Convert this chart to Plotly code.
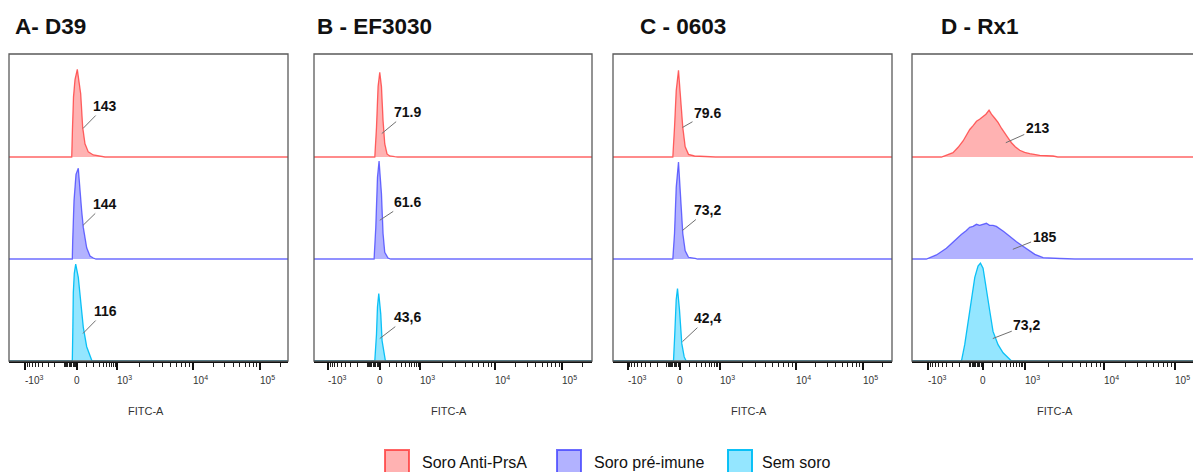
import math
import plotly.graph_objects as go

FONT = "Liberation Sans, Arial, sans-serif"
W, H = 1193, 472

# ---------------- data ----------------
panel_titles = ["A- D39", "B - EF3030", "C - 0603", "D - Rx1"]
series_names = ["Soro Anti-PrsA", "Soro pré-imune", "Sem soro"]

# Histogram bins: display channel on the biexponential FITC-A axis,
# and counts normalised to mode (% of one lane height)
a_red_ch = [62.7, 63.5, 64.5, 66.0, 67.5, 68.3, 71.7, 73.7, 76.0, 79.3, 84.3, 89.3, 94.0, 96.0]
a_red_n = [0, 29, 59, 76, 84, 86, 62, 29, 13, 5, 2, 1, 0.5, 0]
a_blue_ch = [63.3, 63.7, 65.0, 67.0, 69.3, 72.7, 74.3, 77.7, 81.0, 84.3, 87.0]
a_blue_n = [0, 18, 57, 83, 89, 47, 31, 11, 3, 1, 0]
a_cyan_ch = [63.3, 63.8, 64.3, 65.3, 66.7, 69.3, 71.7, 74.3, 77.7, 81.0, 83.0]
a_cyan_n = [0, 29, 67, 86, 95, 82, 60, 33, 14, 4, 0]

b_red_ch = [63.0, 64.7, 66.3, 68.0, 69.7, 71.3, 73.0, 75.3, 78.0, 83.0, 86.0]
b_red_n = [0, 29, 69, 83, 69, 36, 13, 3, 1, 0.3, 0]
b_blue_ch = [62.3, 64.0, 65.7, 67.3, 69.7, 71.3, 73.0, 76.3, 79.0]
b_blue_n = [0, 31, 80, 96, 64, 25, 6.5, 1, 0]
b_cyan_ch = [63.0, 64.7, 65.7, 67.0, 69.0, 70.3, 72.3, 73.7]
b_cyan_n = [0, 26, 53, 66, 46, 20, 5, 0]

c_red_ch = [61.3, 63.0, 64.7, 67.0, 69.3, 71.3, 73.7, 77.0, 83.0, 88.0, 93.0, 98.0, 102.0, 104.0]
c_red_n = [0, 29, 65, 85, 56, 29, 10, 2.6, 1, 0.7, 0.5, 0.7, 0.3, 0]
c_blue_ch = [61.3, 63.0, 64.7, 67.0, 69.3, 71.3, 73.7, 77.0, 83.7, 86.0]
c_blue_n = [0, 25, 70, 95, 57, 25, 8, 1.7, 0.7, 0]
c_cyan_ch = [62.0, 63.3, 64.7, 66.0, 68.0, 70.3, 72.7, 74.7]
c_cyan_n = [0, 27, 60, 71, 50, 17, 4, 0]

d_red_ch = [28.6, 39.6, 44.5, 49.2, 52.5, 55.6, 59.0, 62.0, 65.0, 68.3, 71.0, 74.0, 76.3, 79.5, 82.6,
            86.0, 89.0, 92.0, 95.4, 99.0, 103.3, 108.0, 112.9, 122.4, 135.1, 139.6]
d_red_n = [0, 4.3, 9.5, 15.7, 21, 27, 31, 35, 37, 40, 42, 46, 42, 38, 34,
           28, 24, 19, 14, 10, 6.6, 4.5, 3.3, 1.7, 1, 0]
d_blue_ch = [14.2, 23.8, 28.5, 33.3, 38.0, 42.9, 47.5, 52.4, 55.5, 58.7, 62.0, 65.0, 68.3, 71.5, 74.5,
             77.8, 81.0, 84.2, 88.0, 92.2, 96.0, 100.2, 105.0, 109.7, 113.5, 117.7, 125.6, 132.0, 141.5, 155.9]
d_blue_n = [0, 4, 7, 10.5, 15, 20, 24, 28, 31, 32, 34, 33, 34, 35, 33,
            33, 32, 30, 27, 23.5, 20, 17, 13.5, 10.5, 7.5, 4.6, 1.3, 0.8, 0.5, 0]
d_cyan_ch = [47.7, 50.8, 54.0, 57.2, 60.4, 63.5, 65.8, 68.3, 71.5, 74.7, 77.8, 82.6, 87.4, 92.2, 95.4]
d_cyan_n = [0, 16, 39, 62, 82, 93, 96, 91, 72, 49, 29, 16, 8, 3, 0]

# MFI values written on each histogram
mfi_labels = [
    ["143", "144", "116"],
    ["71.9", "61.6", "43,6"],
    ["79.6", "73,2", "42,4"],
    ["213", "185", "73,2"],
]

# Axis ticks (FITC-A values)
tick_values = [-1e3, 0, 1e3, 1e4, 1e5]
tick_text = ["-10<sup>3</sup>", "0", "10<sup>3</sup>", "10<sup>4</sup>", "10<sup>5</sup>"]
minor_values = ([-v for v in range(100, 1000, 100)] + [-v for v in range(10, 100, 10)]
                + list(range(100, 1000, 100)) + list(range(2000, 10000, 1000))
                + list(range(20000, 100000, 10000)) + [200000])

hists = [
    [(a_red_ch, a_red_n), (a_blue_ch, a_blue_n), (a_cyan_ch, a_cyan_n)],
    [(b_red_ch, b_red_n), (b_blue_ch, b_blue_n), (b_cyan_ch, b_cyan_n)],
    [(c_red_ch, c_red_n), (c_blue_ch, c_blue_n), (c_cyan_ch, c_cyan_n)],
    [(d_red_ch, d_red_n), (d_blue_ch, d_blue_n), (d_cyan_ch, d_cyan_n)],
]

# ---------------- layout / style ----------------
def to_channel(v):
    """biexponential display transform used by the cytometry software"""
    if v >= 1e4:
        return 184 + 67 * math.log10(v / 1e4)
    if v >= 1e3:
        return 108 + 76 * math.log10(v / 1e3)
    c = 150.0
    if v >= 0:
        return 68 + 40 * math.asinh(v / c) / math.asinh(1e3 / c)
    return 68 - 52 * math.asinh(-v / c) / math.asinh(1e3 / c)

panels = [
    dict(px0=9, px1=288, rng=[0, 279], title_px=13, open_right=False),
    dict(px0=314, px1=592, rng=[2, 281], title_px=315, open_right=False),
    dict(px0=613, px1=892, rng=[1.5, 280.5], title_px=638, open_right=False),
    dict(px0=912, px1=1193, rng=[0.5, 268.6], title_px=939, open_right=True),
]
lane_offsets = [200, 100, 0]
line_colors = ["rgba(255,50,50,0.75)", "rgba(60,60,255,0.75)", "rgba(0,190,245,0.95)"]
fill_colors = ["rgba(255,0,0,0.30)", "rgba(0,0,255,0.30)", "rgba(0,195,255,0.42)"]
# label placement: (head channel, head height, label channel, label height) within the lane
label_pos = [
    [(74, 28, 96, 50), (74, 33, 96, 54), (74, 27, 96, 49)],
    [(70, 23, 96, 44), (68, 38, 96, 56), (68, 22, 96, 43)],
    [(71, 29, 96, 43), (71, 28, 96, 48), (71, 19, 96, 42)],
    [(90, 14, 120.5, 28), (96.7, 9.5, 127, 22), (77.6, 22, 110, 35)],
]

y_bottom_px, y_top_px = 361, 54
ydom = [(H - y_bottom_px) / H, (H - y_top_px) / H]
yrange = [0, 301]

fig = go.Figure()
shapes = []
annotations = []

for p, cfg in enumerate(panels):
    xa = "x" if p == 0 else f"x{p+1}"
    ya = "y" if p == 0 else f"y{p+1}"
    xkey = "xaxis" if p == 0 else f"xaxis{p+1}"
    ykey = "yaxis" if p == 0 else f"yaxis{p+1}"
    lo, hi = cfg["rng"]
    for s in range(3):
        ch, n = hists[p][s]
        off = lane_offsets[s]
        xs = [lo] + list(ch) + [hi]
        ys = [off] + [off + v for v in n] + [off]
        fig.add_trace(go.Scatter(
            x=xs, y=ys, xaxis=xa, yaxis=ya, mode="lines", fill="toself",
            fillcolor=fill_colors[s], line=dict(color=line_colors[s], width=1.3),
            name=series_names[s], showlegend=False, hoverinfo="skip"))
        hx, hy, lx, ly = label_pos[p][s]
        annotations.append(dict(
            x=hx, y=off + hy, xref=xa, yref=ya, ax=lx, ay=off + ly, axref=xa, ayref=ya,
            text="<b>" + mfi_labels[p][s] + "</b>", showarrow=True, arrowhead=0,
            arrowwidth=1, arrowcolor="#707070", standoff=0, startstandoff=0,
            font=dict(family=FONT, size=14, color="#111")))

    dom = [cfg["px0"] / W, min(cfg["px1"] / W, 1.0)]
    fig.layout[xkey] = dict(
        domain=dom, range=[lo, hi], anchor=ya, showgrid=False, zeroline=False,
        showline=True, linecolor="#111", linewidth=1.8,
        tickmode="array", tickvals=[to_channel(v) for v in tick_values],
        ticks="outside", ticklen=7, tickwidth=2.2, tickcolor="#111", showticklabels=False,
        minor=dict(tickmode="array", tickvals=[to_channel(v) for v in minor_values],
                   ticks="outside", ticklen=4, tickwidth=1.3, tickcolor="#222"),
        fixedrange=True)
    fig.layout[ykey] = dict(
        domain=ydom, range=yrange, anchor=xa, showgrid=False, zeroline=False,
        showline=False, showticklabels=False, ticks="", fixedrange=True)

    # frame
    shapes.append(dict(type="rect", xref=f"{xa} domain", yref=f"{ya} domain",
                       x0=0, x1=1.2 if cfg["open_right"] else 1, y0=0, y1=1,
                       line=dict(color="#5a5a5a", width=1.3), layer="above"))

    # tick labels
    for v, t in zip(tick_values, tick_text):
        annotations.append(dict(
            x=to_channel(v), y=(H - 380) / H, xref=xa, yref="paper",
            text=t, showarrow=False, xanchor="center" if v == 0 else "left",
            xshift=0 if v == 0 else -2, yanchor="middle",
            font=dict(family=FONT, size=10, color="#333")))
    # axis title
    annotations.append(dict(
        x=137, y=(H - 411) / H, xref=xa, yref="paper", text="FITC-A",
        showarrow=False, xanchor="center", yanchor="middle",
        font=dict(family=FONT, size=11, color="#333")))
    # panel title
    annotations.append(dict(
        x=cfg["title_px"] / W, y=(H - 27) / H, xref="paper", yref="paper",
        text="<b>" + panel_titles[p] + "</b>", showarrow=False,
        xanchor="left", yanchor="middle",
        font=dict(family=FONT, size=22.5, color="#111")))

# legend (bottom)
legend_px = [(385, 420), (557, 592), (728, 760)]
for s, (sq, tx) in enumerate(legend_px):
    shapes.append(dict(type="rect", xref="paper", yref="paper",
                       x0=sq / W, x1=(sq + 24) / W, y0=(H - 474) / H, y1=(H - 450) / H,
                       fillcolor=fill_colors[s], line=dict(color=line_colors[s], width=2)))
    annotations.append(dict(
        x=tx / W, y=(H - 462) / H, xref="paper", yref="paper", text=series_names[s],
        showarrow=False, xanchor="left", yanchor="middle",
        font=dict(family=FONT, size=16, color="#111")))

fig.update_layout(
    width=W, height=H, margin=dict(l=0, r=0, t=0, b=0),
    paper_bgcolor="white", plot_bgcolor="white", showlegend=False,
    shapes=shapes, annotations=annotations,
    font=dict(family=FONT),
)

fig.write_html("out.html")
